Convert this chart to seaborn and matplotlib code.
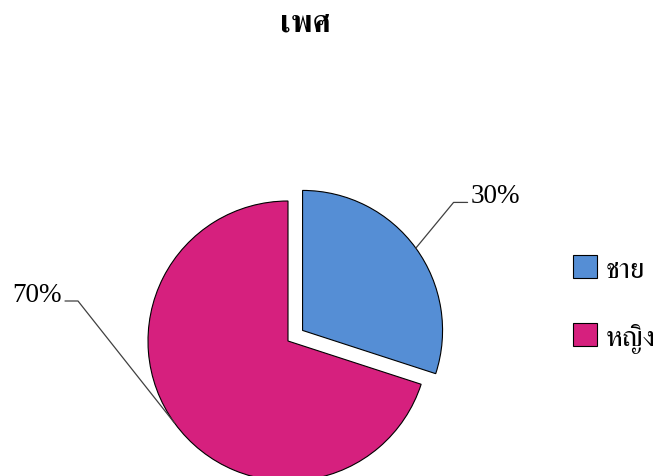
import numpy as np
import matplotlib
matplotlib.use("Agg")
import matplotlib.pyplot as plt
from matplotlib.patches import Patch
import seaborn as sns

title = "เพศ"
categories = ["ชาย", "หญิง"]
values = [30, 70]
pct_labels = ["30%", "70%"]
colors = ["#558ED5", "#D6207E"]

sns.set_theme(style="white")
plt.rcParams["font.family"] = ["FreeSerif", "Liberation Serif", "DejaVu Sans"]

W, H = 663, 477
fig = plt.figure(figsize=(W / 100, H / 100), dpi=100)
ax = fig.add_axes([0, 0, 1, 1])

R = 140
cx, cy = 288, H - 342
explode_d = 18
wedges, _ = ax.pie(values, startangle=90, counterclock=False, colors=colors,
                   radius=R, center=(cx, cy), explode=[explode_d, 0],
                   wedgeprops=dict(edgecolor="black", linewidth=0.8))
ax.set_xlim(0, W)
ax.set_ylim(0, H)
ax.set_aspect("equal")
ax.axis("off")

# leader lines and labels (kink offsets relative to wedge centre, horizontal run)
leaders = [((151, 128), 14), ((-210, 40), -13)]
for w, lab, (kink, run) in zip(wedges, pct_labels, leaders):
    ang = np.deg2rad((w.theta1 + w.theta2) / 2)
    wcx, wcy = w.center
    ex = wcx + w.r * np.cos(ang)
    ey = wcy + w.r * np.sin(ang)
    kx, ky = wcx + kink[0], wcy + kink[1]
    hx = kx + run
    ax.plot([ex, kx, hx], [ey, ky, ky], color="#404040", lw=0.9)
    ha = "left" if run > 0 else "right"
    ax.text(hx + (3 if run > 0 else -3), ky + 7, lab, ha=ha, va="center",
            fontsize=19.5, color="black", family=["Liberation Serif"])

fig.text(305 / W, 1 - 24 / H, title, ha="center", va="center",
         fontsize=22, fontweight="bold", color="black")

handles = [Patch(facecolor=c, edgecolor="black", linewidth=0.8) for c in colors]
leg = ax.legend(handles, categories, loc="center left",
                bbox_to_anchor=(547 / W, 1 - 305 / H), frameon=False,
                fontsize=21, handlelength=0.82, handleheight=0.82,
                labelspacing=1.38, handletextpad=0.3,
                bbox_transform=fig.transFigure)
for t in leg.get_texts():
    t.set_color("black")

fig.savefig("out.png", dpi=100)
